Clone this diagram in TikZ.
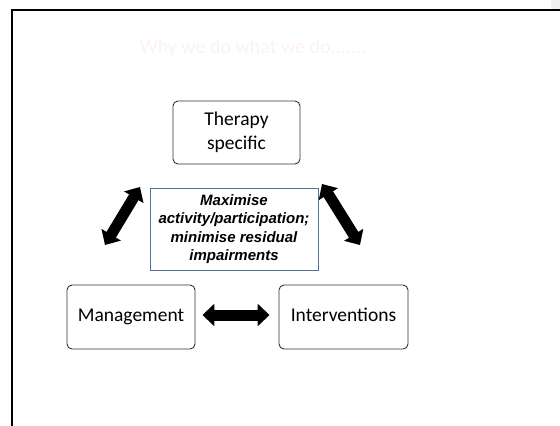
\documentclass[tikz,border=0pt]{standalone}
\usepackage{fontspec}
\setmainfont{Carlito}
\newfontfamily\arialfont{Liberation Sans}
\usetikzlibrary{arrows.meta}

\definecolor{titlepink}{RGB}{253,241,241}
\definecolor{goalblue}{RGB}{84,112,160}

\begin{document}
\begin{tikzpicture}[
  x=1pt, y=-1pt,
  box/.style={draw=black!80, line width=0.9pt, rounded corners=5pt,
    align=center, inner sep=0pt, font=\fontsize{19.5}{23.5}\selectfont},
  goal/.style={draw=goalblue, line width=0.9pt, align=center, inner sep=0pt,
    font=\arialfont\bfseries\itshape\fontsize{15}{18.3}\selectfont},
  fat/.style={line width=11pt, {Triangle[length=12pt,width=22pt]}-{Triangle[length=12pt,width=22pt]}}
]
  \useasboundingbox (0,0) rectangle (560,426);
  % khung
  \fill[gray!12] (551,0) rectangle (560,9);
  \draw[line width=2pt] (12,426) -- (12,10) -- (560,10);
  \node[text=titlepink, font=\fontsize{20}{24}\selectfont] (title) at (253,48) {Why we do what we do.......};

  % các hộp
  \node[box, minimum width=127pt, minimum height=63pt] (ther) at (236.5,132.5) {Therapy\\specific};
  \node[goal, minimum width=168pt, minimum height=82pt] (aim) at (234,229) {Maximise\\activity/participation;\\minimise residual\\impairments};
  \node[box, minimum width=128pt, minimum height=64pt, text height=13pt, text depth=4pt] (man) at (131,317) {Management};
  \node[box, minimum width=129pt, minimum height=64pt, text height=13pt, text depth=4pt] (int) at (343.5,317) {Interventions};

  % các mũi tên
  \coordinate (lt) at (140,187);
  \coordinate (lb) at (105,245);
  \coordinate (rt) at (322,184);
  \coordinate (rb) at (360,245);
  \draw[fat] (lt) -- (lb);
  \draw[fat] (rt) -- (rb);
  \draw[fat, shorten <=7pt, shorten >=9pt] (man.east |- 0,315) -- (int.west |- 0,315);
\end{tikzpicture}
\end{document}
